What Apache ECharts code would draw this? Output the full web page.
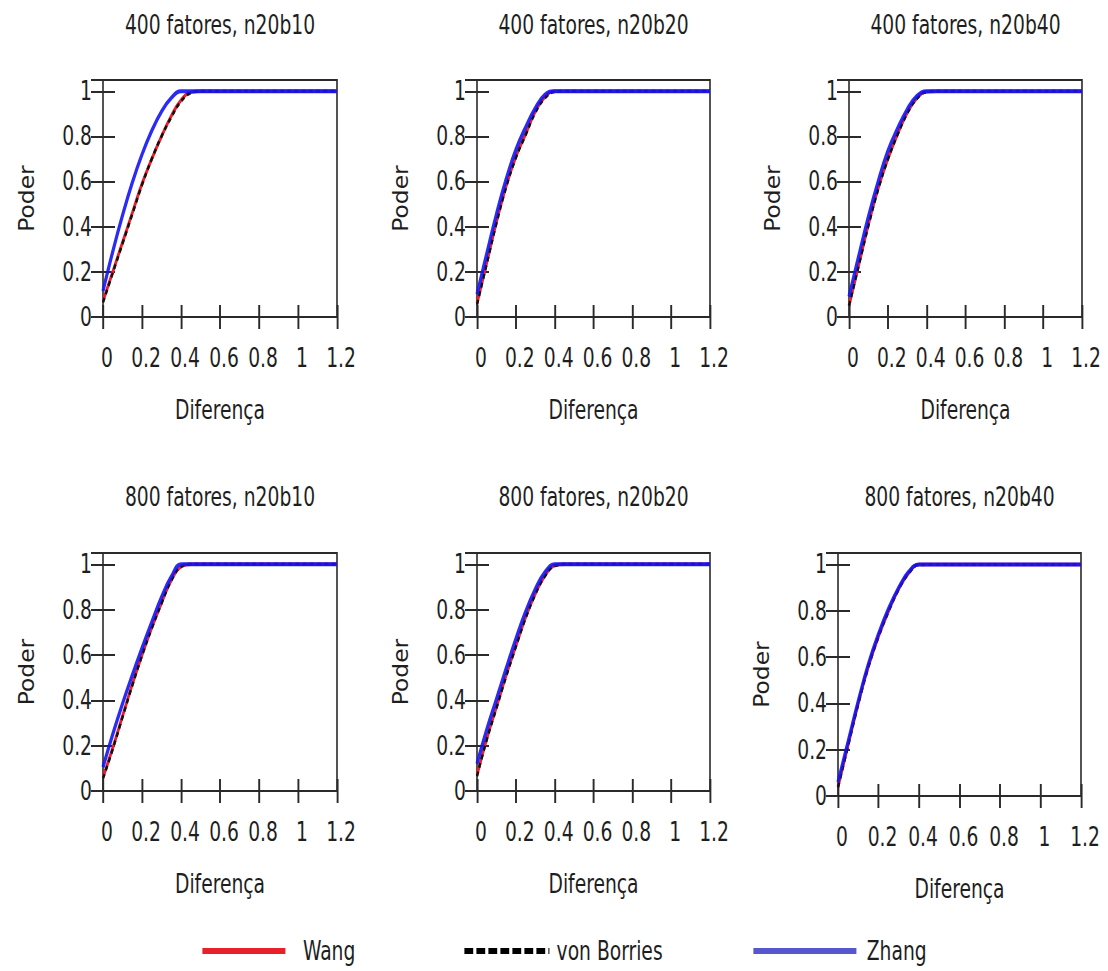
<!DOCTYPE html>
<html>
<head>
<meta charset="utf-8">
<script src="https://cdn.jsdelivr.net/npm/echarts@6/dist/echarts.min.js"></script>
<style>
html,body{margin:0;padding:0;background:#fff;overflow:hidden;}
#wrap{width:1108px;height:971px;overflow:hidden;position:relative;}
#chart{width:1385px;height:971px;transform:scaleX(0.8);transform-origin:0 0;position:absolute;left:0;top:0;}
</style>
</head>
<body>
<div id="wrap"><div id="chart"></div></div>
<script>
// ---------- DATA ----------
const diferenca = [0, 0.05, 0.1, 0.15, 0.2, 0.25, 0.3, 0.35, 0.4, 0.45, 0.5, 0.6, 0.7, 0.8, 0.9, 1.0, 1.1, 1.2];

const panelTitles = ['400 fatores, n20b10', '400 fatores, n20b20', '400 fatores, n20b40',
                     '800 fatores, n20b10', '800 fatores, n20b20', '800 fatores, n20b40'];
const seriesNames = ['Wang', 'von Borries', 'Zhang'];

const xTickLabels = ['0', '0.2', '0.4', '0.6', '0.8', '1', '1.2'];
const yTickLabels = ['0', '0.2', '0.4', '0.6', '0.8', '1'];

// 400 fatores, n20b10
const wang1   = [0.07, 0.20, 0.33, 0.46, 0.59, 0.70, 0.80, 0.89, 0.96, 0.995, 1, 1, 1, 1, 1, 1, 1, 1];
const borries1= [0.065, 0.195, 0.325, 0.455, 0.585, 0.70, 0.80, 0.885, 0.955, 0.993, 1, 1, 1, 1, 1, 1, 1, 1];
const zhang1  = [0.115, 0.29, 0.45, 0.595, 0.72, 0.825, 0.91, 0.97, 1, 1, 1, 1, 1, 1, 1, 1, 1, 1];
// 400 fatores, n20b20
const wang2   = [0.06, 0.24, 0.42, 0.58, 0.71, 0.81, 0.91, 0.975, 1, 1, 1, 1, 1, 1, 1, 1, 1, 1];
const borries2= [0.055, 0.235, 0.415, 0.575, 0.705, 0.805, 0.905, 0.97, 0.998, 1, 1, 1, 1, 1, 1, 1, 1, 1];
const zhang2  = [0.10, 0.28, 0.455, 0.61, 0.74, 0.84, 0.925, 0.985, 1, 1, 1, 1, 1, 1, 1, 1, 1, 1];
// 400 fatores, n20b40
const wang3   = [0.05, 0.23, 0.41, 0.57, 0.70, 0.81, 0.905, 0.97, 0.998, 1, 1, 1, 1, 1, 1, 1, 1, 1];
const borries3= [0.05, 0.228, 0.405, 0.565, 0.698, 0.808, 0.902, 0.968, 0.997, 1, 1, 1, 1, 1, 1, 1, 1, 1];
const zhang3  = [0.09, 0.27, 0.445, 0.60, 0.735, 0.835, 0.92, 0.98, 1, 1, 1, 1, 1, 1, 1, 1, 1, 1];
// 800 fatores, n20b10
const wang4   = [0.06, 0.19, 0.33, 0.47, 0.60, 0.72, 0.83, 0.93, 0.99, 1, 1, 1, 1, 1, 1, 1, 1, 1];
const borries4= [0.055, 0.185, 0.325, 0.465, 0.597, 0.718, 0.828, 0.928, 0.99, 1, 1, 1, 1, 1, 1, 1, 1, 1];
const zhang4  = [0.105, 0.25, 0.385, 0.51, 0.63, 0.745, 0.855, 0.945, 1, 1, 1, 1, 1, 1, 1, 1, 1, 1];
// 800 fatores, n20b20
const wang5   = [0.07, 0.23, 0.37, 0.51, 0.64, 0.765, 0.87, 0.95, 0.995, 1, 1, 1, 1, 1, 1, 1, 1, 1];
const borries5= [0.065, 0.225, 0.365, 0.505, 0.636, 0.762, 0.867, 0.948, 0.994, 1, 1, 1, 1, 1, 1, 1, 1, 1];
const zhang5  = [0.12, 0.27, 0.405, 0.54, 0.67, 0.79, 0.89, 0.965, 1, 1, 1, 1, 1, 1, 1, 1, 1, 1];
// 800 fatores, n20b40
const wang6   = [0.04, 0.22, 0.40, 0.56, 0.69, 0.80, 0.895, 0.965, 1, 1, 1, 1, 1, 1, 1, 1, 1, 1];
const borries6= [0.038, 0.218, 0.397, 0.557, 0.688, 0.798, 0.893, 0.963, 0.999, 1, 1, 1, 1, 1, 1, 1, 1, 1];
const zhang6  = [0.06, 0.235, 0.41, 0.57, 0.70, 0.81, 0.90, 0.97, 1, 1, 1, 1, 1, 1, 1, 1, 1, 1];

const panelData = [
  [wang1, borries1, zhang1], [wang2, borries2, zhang2], [wang3, borries3, zhang3],
  [wang4, borries4, zhang4], [wang5, borries5, zhang5], [wang6, borries6, zhang6]
];

// ---------- LAYOUT / STYLE ----------
// The chart is drawn 1.25x wider and squeezed horizontally with CSS (scaleX 0.8),
// reproducing the horizontally compressed look of the reference.
const SX = 1 / 0.8;
const FONT = "'DejaVu Sans Condensed', 'DejaVu Sans', sans-serif";
const FS = 26;
const TXT = '#1e1e1e';
const grids = [
  {left: 103, top: 80, width: 234, height: 237},
  {left: 477, top: 80, width: 233, height: 237},
  {left: 849, top: 80, width: 233, height: 237},
  {left: 103, top: 553, width: 234, height: 238},
  {left: 477, top: 553, width: 233, height: 238},
  {left: 838, top: 553, width: 243, height: 243}
].map(g => ({left: g.left * SX, top: g.top, width: g.width * SX, height: g.height}));

const lineStyles = [
  {color: '#e8202a', width: 3.5, type: 'solid', opacity: 1},
  {color: '#111111', width: 3, type: [5, 4], opacity: 1},
  {color: '#1414f5', width: 4, type: 'solid', opacity: 0.9}
];

const xLabelFmt = v => { const i = Math.round(v / 0.2); return (Math.abs(v - i * 0.2) < 1e-6 && xTickLabels[i] !== undefined) ? xTickLabels[i] : ''; };
const yLabelFmt = v => { const i = Math.round(v / 0.2); return (Math.abs(v - i * 0.2) < 1e-6 && yTickLabels[i] !== undefined) ? yTickLabels[i] : ''; };

const xTickStyle = {show: true, inside: true, length: 12, lineStyle: {color: '#2a2a2a', width: 2.4}};
const yTickStyle = {show: true, inside: true, length: 12 * SX, lineStyle: {color: '#2a2a2a', width: 2}};

const legendText = pad => ({fontFamily: FONT, fontSize: FS, color: TXT, padding: [0, 0, 0, pad]});
const hiddenSymbol = {opacity: 0, borderWidth: 0};

const option = {
  backgroundColor: '#ffffff',
  animation: false,
  grid: grids.map(g => Object.assign({show: true, borderColor: '#2a2a2a', borderWidth: 2, containLabel: false}, g)),
  xAxis: [],
  yAxis: [],
  series: [],
  graphic: [],
  legend: [
    {data: ['Wang'], left: 200 * SX, top: 938, padding: 0, itemWidth: 83 * SX, itemHeight: 30, selectedMode: false,
     itemStyle: hiddenSymbol, lineStyle: {width: 6, color: '#e8202a'}, textStyle: legendText(17)},
    {data: ['von Borries'], left: 462 * SX, top: 938, padding: 0, itemWidth: 85 * SX, itemHeight: 30, selectedMode: false,
     itemStyle: hiddenSymbol, lineStyle: {width: 6, color: '#000000', type: [11, 4]}, textStyle: legendText(4)},
    {data: ['Zhang'], left: 751 * SX, top: 938, padding: 0, itemWidth: 103 * SX, itemHeight: 30, selectedMode: false,
     itemStyle: hiddenSymbol, lineStyle: {width: 6, color: '#4444c8'}, textStyle: legendText(8)}
  ]
};

grids.forEach((g, i) => {
  option.xAxis.push({
    type: 'value', gridIndex: i, position: 'bottom', min: 0, max: 1.2, interval: 0.2,
    name: 'Diferença', nameLocation: 'middle', nameGap: 80,
    nameTextStyle: {fontFamily: FONT, fontSize: FS, color: TXT},
    axisLine: {show: false}, splitLine: {show: false}, axisTick: xTickStyle,
    axisLabel: {fontFamily: FONT, fontSize: FS, color: TXT, margin: 28, padding: [0, 0, 0, 10], formatter: xLabelFmt}
  });
  option.xAxis.push({
    type: 'value', gridIndex: i, position: 'top', min: 0, max: 1.2, interval: 0.2,
    axisLine: {show: false}, splitLine: {show: false}, axisTick: xTickStyle, axisLabel: {show: false}
  });
  option.yAxis.push({
    type: 'value', gridIndex: i, position: 'left', min: 0, max: 1.05, interval: 0.2,
    name: 'Poder', nameLocation: 'middle', nameGap: 66 * SX,
    nameTextStyle: {fontFamily: FONT, fontSize: FS, color: TXT},
    axisLine: {show: false}, splitLine: {show: false}, axisTick: yTickStyle,
    axisLabel: {fontFamily: FONT, fontSize: FS, color: TXT, margin: 11 * SX, showMaxLabel: false, formatter: yLabelFmt}
  });
  option.yAxis.push({
    type: 'value', gridIndex: i, position: 'right', min: 0, max: 1.05, interval: 0.2,
    axisLine: {show: false}, splitLine: {show: false}, axisTick: yTickStyle, axisLabel: {show: false}
  });
  panelData[i].forEach((vals, k) => {
    option.series.push({
      name: seriesNames[k], type: 'line', xAxisIndex: 2 * i, yAxisIndex: 2 * i,
      data: diferenca.map((d, j) => [d, vals[j]]),
      symbol: 'none', smooth: 0.45, clip: false, z: 2 + k,
      lineStyle: lineStyles[k], itemStyle: {color: lineStyles[k].color}
    });
  });
  option.graphic.push({
    type: 'text', x: g.left + g.width / 2, y: i < 3 ? 25 : 497,
    style: {text: panelTitles[i], font: FS + "px " + FONT, fill: TXT, align: 'center', verticalAlign: 'middle'}
  });
});

const chart = echarts.init(document.getElementById('chart'), null, {renderer: 'svg'});
chart.setOption(option);
</script>
</body>
</html>
